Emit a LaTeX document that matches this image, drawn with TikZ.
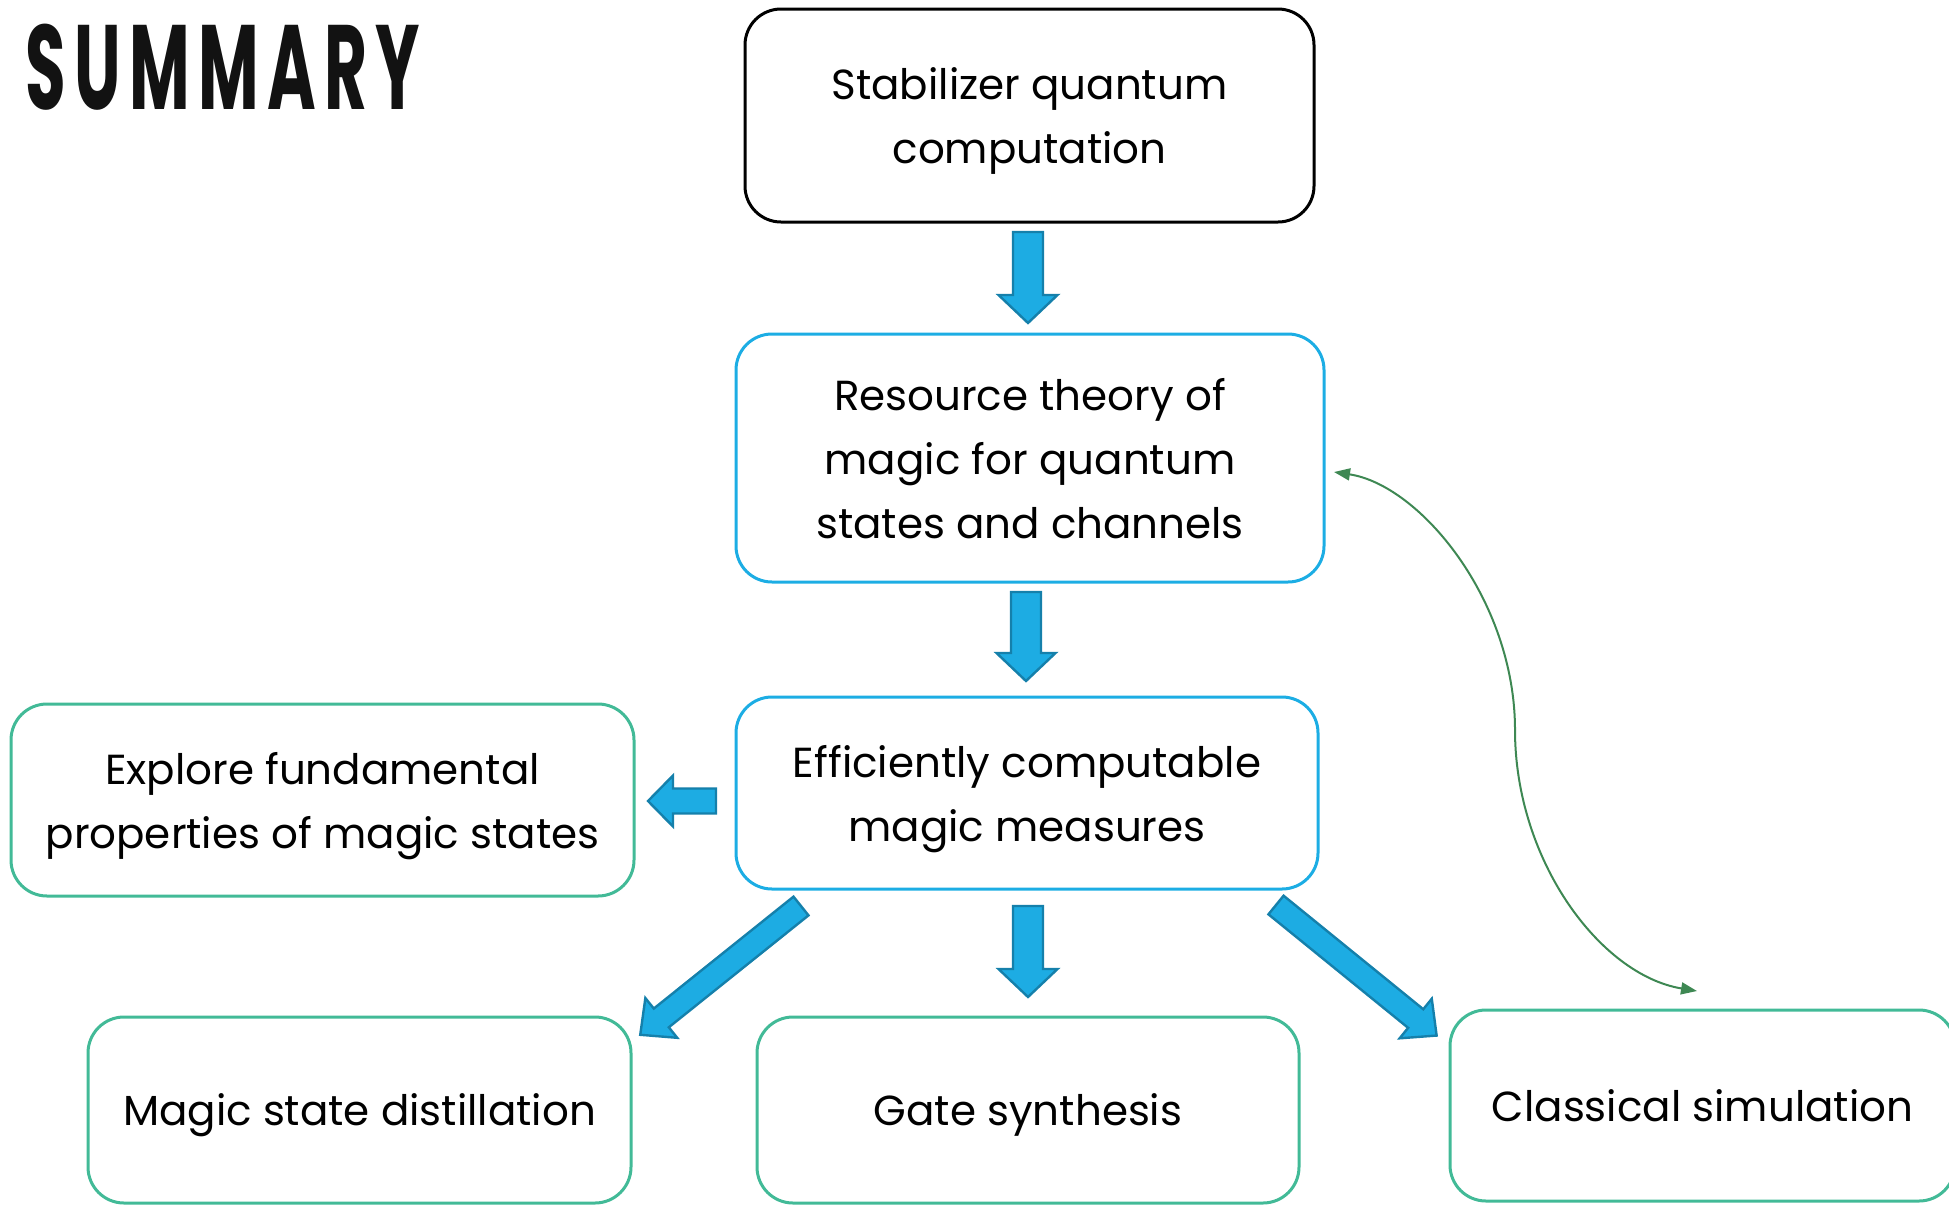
\documentclass[tikz,border=0pt]{standalone}
\usepackage{fontspec}
\setmainfont{Poppins}
\newfontfamily\titlefont[FakeStretch=0.55,LetterSpace=7]{Poppins}
\usetikzlibrary{arrows.meta}

\definecolor{boxcyan}{HTML}{1CADE4}
\definecolor{boxgreen}{HTML}{42BA97}
\definecolor{arrowfill}{HTML}{1DACE3}
\definecolor{arrowedge}{HTML}{1580AB}
\definecolor{curvegreen}{HTML}{3E8853}

\tikzset{
  topic/.style={draw, rounded corners=18pt, line width=1.5pt, align=center,
    font=\fontsize{21}{32}\selectfont, inner sep=0pt, text depth=0pt},
  basebox/.style={topic, draw=black},
  corebox/.style={topic, draw=boxcyan},
  appbox/.style={topic, draw=boxgreen},
  blockarrow/.style={fill=arrowfill, draw=arrowedge, line width=1.2pt, line join=miter},
}

% block arrow: tail, direction, length, half shaft, half head, head length
\newcommand\barrow[6]{%
  \begin{scope}[shift={(#1)}, rotate=#2]
    \draw[blockarrow] (0,#4) -- ({#3-#6},#4) -- ({#3-#6},#5) -- (#3,0)
      -- ({#3-#6},-#5) -- ({#3-#6},-#4) -- (0,-#4) -- cycle;
  \end{scope}}

\begin{document}
\begin{tikzpicture}[x=0.5pt, y=-0.5pt]
  \useasboundingbox (0,0) rectangle (1949,1205);

  \node[anchor=base west, inner sep=0pt, font=\titlefont\bfseries\fontsize{60}{60}\selectfont,
    text=black!93] (title) at (25,109) {SUMMARY};

  % boxes
  \node[basebox, minimum width=284.5pt, minimum height=106.5pt] (stab) at (1029.5,115.5)
    {Stabilizer quantum\\computation};
  \node[corebox, minimum width=294pt, minimum height=124pt] (res) at (1030,458)
    {Resource theory of\\magic for quantum\\states and channels};
  \node[corebox, minimum width=291pt, minimum height=96pt] (eff) at (1027,793)
    {Efficiently computable\\magic measures};
  \node[appbox, minimum width=311.5pt, minimum height=96pt] (expl) at (322.5,800)
    {Explore fundamental\\properties of magic states};
  \node[appbox, minimum width=271.5pt, minimum height=93pt] (msd) at (359.5,1110)
    {Magic state distillation};
  \node[appbox, minimum width=271pt, minimum height=93pt] (gate) at (1028,1110)
    {Gate synthesis};
  \node[appbox, minimum width=252.5pt, minimum height=95.5pt] (csim) at (1702.5,1105.5)
    {Classical simulation};

  % block arrows
  \barrow{1028,232}{-90}{91}{15}{29.5}{28}
  \barrow{1026,592}{-90}{89}{15}{29.5}{28}
  \barrow{1028,906}{-90}{91}{15}{29.5}{28}
  \barrow{716,801}{180}{68}{12.5}{25.5}{25}
  \barrow{801,906}{-141.3}{206}{12}{25.5}{27}
  \barrow{1276,905}{-39.1}{207}{12}{25.5}{27}

  % feedback
  \coordinate (g1) at (1334,472);
  \coordinate (g2) at (1697,991);
  \draw[curvegreen, line width=1pt, {Triangle[length=8pt,width=6pt]}-{Triangle[length=8pt,width=6pt]}]
    (g1) .. controls (1420,485) and (1515,600) .. (1515,730)
    .. controls (1515,860) and (1600,975) .. (g2);
\end{tikzpicture}
\end{document}
